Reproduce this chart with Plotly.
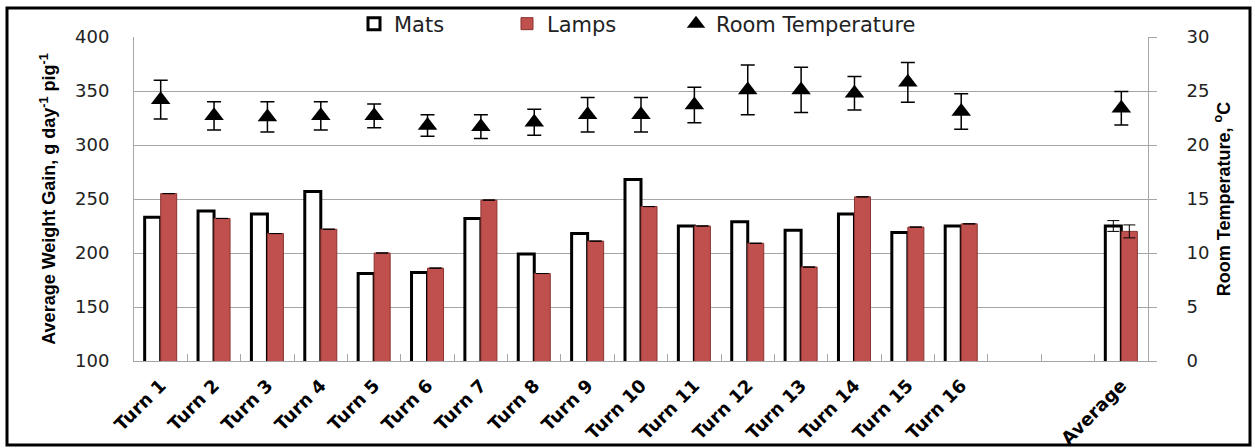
import plotly.graph_objects as go

categories = ["Turn 1", "Turn 2", "Turn 3", "Turn 4", "Turn 5", "Turn 6", "Turn 7", "Turn 8",
              "Turn 9", "Turn 10", "Turn 11", "Turn 12", "Turn 13", "Turn 14", "Turn 15", "Turn 16",
              " ", "  ", "Average"]
bar_cats = ["Turn 1", "Turn 2", "Turn 3", "Turn 4", "Turn 5", "Turn 6", "Turn 7", "Turn 8",
            "Turn 9", "Turn 10", "Turn 11", "Turn 12", "Turn 13", "Turn 14", "Turn 15", "Turn 16",
            "Average"]
mats = [233, 239, 236, 257, 181, 182, 232, 199, 218, 268, 225, 229, 221, 236, 219, 225, 225]
lamps = [255, 232, 218, 222, 200, 186, 249, 181, 211, 243, 225, 209, 187, 252, 224, 227, 220]
mats_err = [None] * 16 + [5]
lamps_err = [None] * 16 + [6]

temp = [24.2, 22.7, 22.6, 22.7, 22.7, 21.8, 21.7, 22.1, 22.8, 22.8, 23.7, 25.1, 25.1, 24.8, 25.8, 23.1, 23.4]
temp_err = [1.8, 1.3, 1.4, 1.3, 1.1, 1.0, 1.1, 1.2, 1.6, 1.6, 1.65, 2.3, 2.1, 1.55, 1.85, 1.65, 1.55]

W, H = 1255, 448
L, R, T, B = 134, 1148, 37, 361
AXIS_GREY = "#a6a6a6"


def px_x(p):
    return (p - L) / (R - L)


def px_y(p):
    return (B - p) / (B - T)


fig = go.Figure()
fig.add_trace(go.Bar(
    x=bar_cats, y=mats, name="Mats", legend="legend",
    marker=dict(color="white", line=dict(color="black", width=3)),
    error_y=dict(type="data", array=mats_err, visible=True, color="black", thickness=1, width=6),
))
fig.add_trace(go.Bar(
    x=bar_cats, y=lamps, name="Lamps", legend="legend2",
    marker=dict(color="#C0504D", line=dict(color="#8A3330", width=1)),
    error_y=dict(type="data", array=lamps_err, visible=True, color="black", thickness=1, width=6),
))
fig.add_trace(go.Scatter(
    x=bar_cats, y=temp, name="Room Temperature", mode="markers", yaxis="y2", legend="legend3",
    marker=dict(symbol="triangle-up", color="black", size=17),
    error_y=dict(type="data", array=temp_err, visible=True, color="black", thickness=1.5, width=7),
))

legend_font = dict(family="DejaVu Sans", size=21, color="#222")
legend_common = dict(orientation="h", xanchor="left", y=px_y(24), yanchor="middle",
                     font=legend_font, bgcolor="rgba(0,0,0,0)", borderwidth=0)

fig.update_layout(
    width=W, height=H,
    margin=dict(l=L, r=W - R, t=T, b=H - B, autoexpand=False),
    paper_bgcolor="white", plot_bgcolor="white",
    barmode="group", bargap=0.4, bargroupgap=0,
    font=dict(family="DejaVu Sans", color="#222"),
    legend=dict(x=px_x(394 - 40), **legend_common),
    legend2=dict(x=px_x(547 - 40), **legend_common),
    legend3=dict(x=px_x(716 - 40), **legend_common),
    xaxis=dict(
        type="category", categoryorder="array", categoryarray=categories,
        range=[-0.5, len(categories) - 0.5], autorange=False,
        tickangle=-45, ticklabelstandoff=6,
        tickfont=dict(family="DejaVu Sans", size=18, color="black", weight="bold"),
        showline=True, linecolor=AXIS_GREY, linewidth=1,
        ticks="inside", tickson="boundaries", ticklen=7, tickcolor=AXIS_GREY, tickwidth=1,
        showgrid=False, zeroline=False,
    ),
    yaxis=dict(
        range=[100, 400], dtick=50, showgrid=True, gridcolor=AXIS_GREY, gridwidth=1,
        showline=True, linecolor=AXIS_GREY, linewidth=1,
        ticks="", ticklabelstandoff=20, tickfont=dict(family="DejaVu Sans", size=18, color="#222"),
        title=dict(text="Average Weight Gain, g day<sup>-1</sup> pig<sup>-1</sup>",
                   font=dict(family="Liberation Sans", size=18, color="black", weight="bold"),
                   standoff=14),
        zeroline=False,
    ),
    yaxis2=dict(
        range=[0, 30], dtick=5, overlaying="y", side="right", showgrid=False,
        showline=True, linecolor=AXIS_GREY, linewidth=1,
        ticks="outside", ticklen=8, tickcolor=AXIS_GREY, ticklabelstandoff=26,
        tickfont=dict(family="DejaVu Sans", size=18, color="#222"),
        title=dict(text="Room Temperature, <sup>o</sup>C",
                   font=dict(family="Liberation Sans", size=18, color="black", weight="bold"),
                   standoff=8),
        zeroline=False,
    ),
    shapes=[dict(type="rect", xref="paper", yref="paper",
                 x0=px_x(7), x1=px_x(1250), y0=px_y(445), y1=px_y(8),
                 line=dict(color="black", width=3), fillcolor="rgba(0,0,0,0)", layer="below")],
    showlegend=True,
)

fig.write_html("out.html", config={"displayModeBar": False},
               post_script="document.body.style.margin='0';document.body.style.overflow='hidden';")
